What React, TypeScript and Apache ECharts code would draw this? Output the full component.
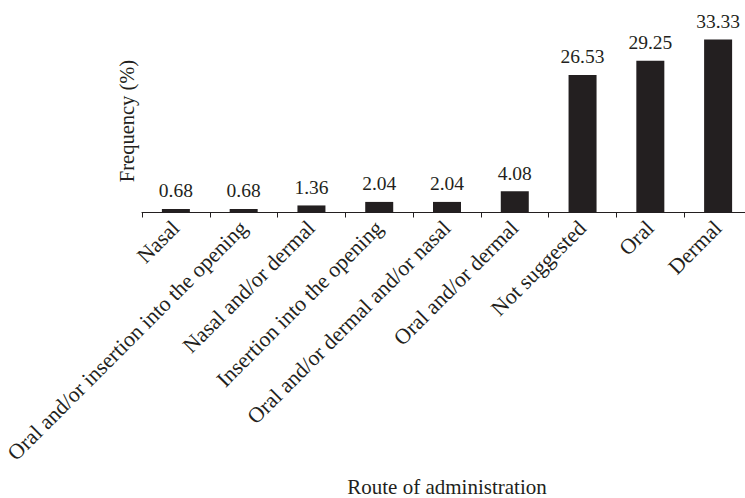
import React, { useEffect, useRef } from "react";
import * as echarts from "echarts";

const categories = [
  "Nasal",
  "Oral and/or insertion into the opening",
  "Nasal and/or dermal",
  "Insertion into the opening",
  "Oral and/or dermal and/or nasal",
  "Oral and/or dermal",
  "Not suggested",
  "Oral",
  "Dermal",
];
const frequency = [0.68, 0.68, 1.36, 2.04, 2.04, 4.08, 26.53, 29.25, 33.33];
const valueLabels = ["0.68", "0.68", "1.36", "2.04", "2.04", "4.08", "26.53", "29.25", "33.33"];
const yAxisTitle = "Frequency (%)";
const xAxisTitle = "Route of administration";

const INK = "#231f20";
const FONT = "'Liberation Serif', 'DejaVu Serif', serif";

export default function App() {
  const ref = useRef<HTMLDivElement>(null);
  useEffect(() => {
    if (!ref.current) return;
    const chart = echarts.init(ref.current, undefined, { renderer: "svg" });
    chart.setOption({
      animation: false,
      backgroundColor: "#ffffff",
      textStyle: { fontFamily: FONT, color: INK },
      grid: {
        left: 142,
        top: 5,
        width: 610,
        height: 207.5,
        containLabel: false,
        outerBoundsMode: "none",
      },
      xAxis: {
        type: "category",
        data: categories,
        name: xAxisTitle,
        nameLocation: "middle",
        nameGap: 264,
        nameTextStyle: { fontFamily: FONT, fontSize: 21, color: INK },
        axisLine: { show: true, lineStyle: { color: INK, width: 1 } },
        axisTick: { show: true, length: 5, lineStyle: { color: INK }, alignWithLabel: false },
        axisLabel: {
          interval: 0,
          rotate: 45,
          margin: 12,
          fontFamily: FONT,
          fontSize: 21.8,
          color: INK,
        },
      },
      yAxis: {
        type: "value",
        min: 0,
        max: 40,
        axisLine: { show: false },
        axisTick: { show: false },
        axisLabel: { show: false },
        splitLine: { show: false },
      },
      graphic: [
        {
          type: "text",
          x: 127,
          y: 121,
          rotation: Math.PI / 2,
          style: {
            text: yAxisTitle,
            fontFamily: FONT,
            fontSize: 20.5,
            fill: INK,
            align: "center",
            verticalAlign: "middle",
          },
        },
      ],
      series: [
        {
          type: "bar",
          data: frequency,
          barWidth: 28,
          itemStyle: { color: INK },
          label: {
            show: true,
            position: "top",
            distance: 8,
            fontFamily: FONT,
            fontSize: 19.5,
            color: INK,
            formatter: (p: any) => valueLabels[p.dataIndex],
          },
        },
      ],
    });
    return () => chart.dispose();
  }, []);
  return (
    <div
      ref={ref}
      style={{ position: "fixed", left: 0, top: 0, width: 745, height: 498, background: "#fff" }}
    />
  );
}
